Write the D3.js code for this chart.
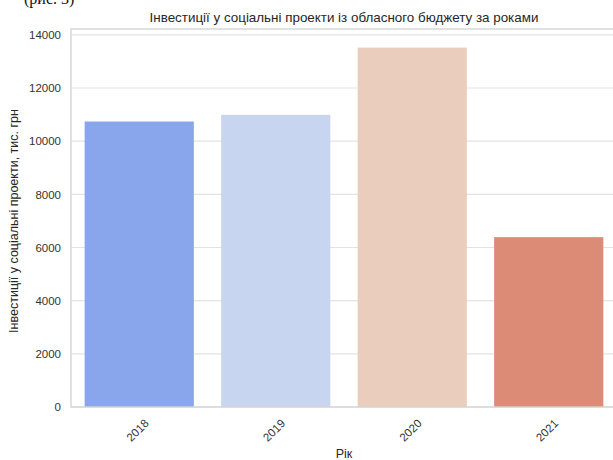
<!DOCTYPE html>
<html>
<head>
<meta charset="utf-8">
<script src="https://cdn.jsdelivr.net/npm/d3@7"></script>
<style>
  body { margin: 0; background: #fff; }
  text { font-family: "Liberation Sans", Arial, sans-serif; }
</style>
</head>
<body>
<script>
// data
const years = ['2018', '2019', '2020', '2021']
const investments = [10740, 10990, 13520, 6390]
const barColors = ['#89a5eb', '#c8d5f1', '#ebcdbd', '#dc8c76']
const yTicks = [0, 2000, 4000, 6000, 8000, 10000, 12000, 14000]

const m = { width: 613, height: 460, left: 71, right: 617, top: 29, bottom: 407 }

const svg = d3.select('body').append('svg')
    .attr('width', m.width)
    .attr('height', m.height)

// cut-off caption from the page above
svg.append('text')
    .attr('x', 24).attr('y', 4)
    .style('font-family', '"Liberation Serif", serif')
    .style('font-size', '16px')
    .attr('fill', '#111')
    .text('(рис. 3)')

const x = d3.scaleBand()
    .domain(years)
    .range([m.left, m.right])
    .paddingInner(0.2)
    .paddingOuter(0.1)

const y = d3.scaleLinear()
    .domain([0, 14220])
    .range([m.bottom, m.top])

// grid
svg.append('g')
    .selectAll('line')
    .data(yTicks)
    .join('line')
    .attr('x1', m.left).attr('x2', m.right)
    .attr('y1', d => y(d)).attr('y2', d => y(d))
    .attr('stroke', '#e3e3e3')
    .attr('stroke-width', 1.2)

// bars
svg.append('g')
    .selectAll('rect')
    .data(years)
    .join('rect')
    .attr('x', d => x(d))
    .attr('width', x.bandwidth())
    .attr('y', (d, i) => y(investments[i]))
    .attr('height', (d, i) => y(0) - y(investments[i]))
    .attr('fill', (d, i) => barColors[i])

// frame
svg.append('rect')
    .attr('x', m.left).attr('y', m.top)
    .attr('width', m.right - m.left).attr('height', m.bottom - m.top)
    .attr('fill', 'none')
    .attr('stroke', '#d4d4d4')
    .attr('stroke-width', 1.4)

// y axis
const yAxis = d3.axisLeft(y).tickValues(yTicks).tickFormat(d3.format('d')).tickSize(0).tickPadding(10)
svg.append('g')
    .attr('transform', `translate(${m.left},0)`)
    .call(yAxis)
    .call(g => g.select('.domain').remove())
    .call(g => g.selectAll('text')
        .style('font-family', '"Liberation Sans", Arial, sans-serif')
        .style('font-size', '11.5px')
        .attr('fill', '#333'))

// x axis labels, rotated
svg.append('g')
    .selectAll('text')
    .data(years)
    .join('text')
    .attr('transform', d => `translate(${x(d) + x.bandwidth() / 2 - 1},431)rotate(-45)`)
    .attr('text-anchor', 'middle')
    .attr('dominant-baseline', 'middle')
    .style('font-size', '11.5px')
    .attr('fill', '#333')
    .text(d => d)

// titles
svg.append('text')
    .attr('x', (m.left + m.right) / 2)
    .attr('y', 22)
    .attr('text-anchor', 'middle')
    .style('font-size', '13.4px')
    .attr('fill', '#262626')
    .text('Інвестиції у соціальні проекти із обласного бюджету за роками')

svg.append('text')
    .attr('x', (m.left + m.right) / 2)
    .attr('y', 458)
    .attr('text-anchor', 'middle')
    .style('font-size', '12.5px')
    .attr('fill', '#262626')
    .text('Рік')

svg.append('text')
    .attr('transform', `translate(18,${(m.top + m.bottom) / 2 + 3})rotate(-90)`)
    .attr('text-anchor', 'middle')
    .style('font-size', '12.5px')
    .attr('fill', '#262626')
    .text('Інвестиції у соціальні проекти, тис. грн')
</script>
</body>
</html>
